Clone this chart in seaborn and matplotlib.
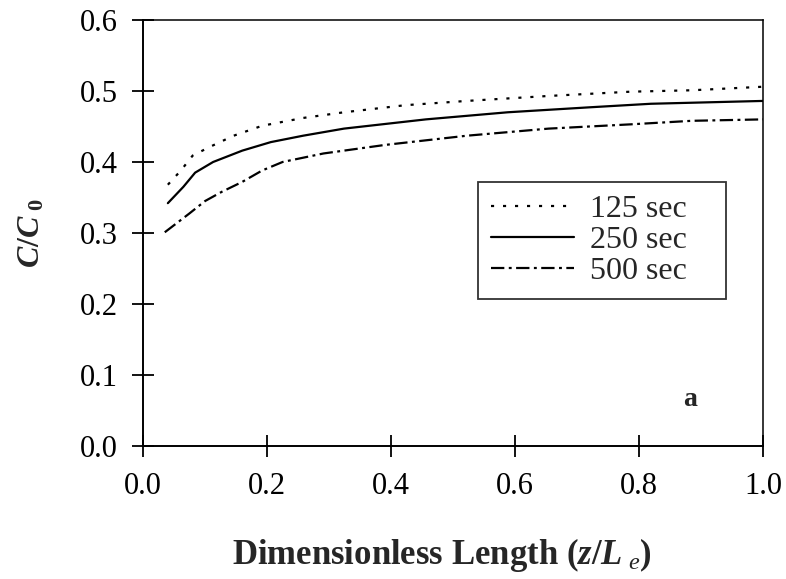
import matplotlib
matplotlib.use("Agg")
import matplotlib.pyplot as plt
import seaborn as sns
import pandas as pd

x125 = [0.040, 0.061, 0.080, 0.107, 0.146, 0.192, 0.258, 0.324, 0.423, 0.522, 0.654, 0.786, 0.885, 1.0]
y125 = [0.368, 0.388, 0.409, 0.421, 0.437, 0.451, 0.462, 0.470, 0.480, 0.486, 0.493, 0.499, 0.501, 0.506]

x250 = [0.040, 0.065, 0.084, 0.113, 0.160, 0.206, 0.258, 0.324, 0.456, 0.588, 0.720, 0.819, 1.0]
y250 = [0.342, 0.365, 0.385, 0.400, 0.416, 0.428, 0.437, 0.447, 0.460, 0.470, 0.477, 0.482, 0.486]

x500 = [0.035, 0.074, 0.100, 0.127, 0.160, 0.192, 0.225, 0.291, 0.390, 0.522, 0.654, 0.786, 0.885, 1.0]
y500 = [0.301, 0.327, 0.345, 0.358, 0.372, 0.388, 0.400, 0.412, 0.424, 0.437, 0.447, 0.453, 0.458, 0.460]

labels = ["125 sec", "250 sec", "500 sec"]
xticks = [0.0, 0.2, 0.4, 0.6, 0.8, 1.0]
yticks = [0.0, 0.1, 0.2, 0.3, 0.4, 0.5, 0.6]

sns.set_theme(style="white")
plt.rcParams['font.family'] = ['Liberation Serif', 'DejaVu Serif']
plt.rcParams['mathtext.fontset'] = 'custom'
plt.rcParams['mathtext.rm'] = 'Liberation Serif'
plt.rcParams['mathtext.it'] = 'Liberation Serif:italic'
plt.rcParams['mathtext.bf'] = 'Liberation Serif:bold'
plt.rcParams['mathtext.bfit'] = 'Liberation Serif:bold:italic'

fig = plt.figure(figsize=(7.86, 5.79), dpi=100)
ax = fig.add_axes([0.182, 0.2297, 0.789, 0.7358])

styles = [(0, (1.4, 4.0)), "-", (0, (6.0, 2.0, 1.3, 2.0))]
for xs, ys, lab, ls in zip([x125, x250, x500], [y125, y250, y500], labels, styles):
    df = pd.DataFrame({"x": xs, "y": ys})
    sns.lineplot(data=df, x="x", y="y", ax=ax, color="black", linewidth=1.6,
                 linestyle=ls, label=lab)

ax.set_xlim(0, 1.0)
ax.set_ylim(0, 0.6)
ax.set_xticks(xticks)
ax.set_yticks(yticks)
ax.set_xticklabels([f"{v:.1f}" for v in xticks])
ax.set_yticklabels([f"{v:.1f}" for v in yticks])
ax.tick_params(axis="both", direction="inout", length=16, width=1.3, color="black",
               labelsize=22, labelcolor="black", bottom=True, left=True,
               top=False, right=False)
ax.tick_params(axis="x", pad=11)
ax.tick_params(axis="y", pad=10)
for s in ax.spines.values():
    s.set_color("black")
    s.set_linewidth(1.4)
ax.spines["top"].set_linewidth(1.1)
ax.spines["right"].set_linewidth(1.1)

ax.set_xlabel(r"Dimensionless Length ($\boldsymbol{z/L}_{\ \mathit{e}}$)", fontsize=25,
              fontweight="bold")
ax.xaxis.set_label_coords(0.482, -0.212)
ax.set_ylabel(r"$\boldsymbol{C/C}_{\ \boldsymbol{0}}$", fontsize=23, labelpad=24)

leg_w = 0.400
leg_h = 116 / 426
leg = ax.legend(loc="upper left", bbox_to_anchor=(0.540, 0.620 - leg_h, leg_w, leg_h),
                mode="expand", borderaxespad=0,
                fontsize=23, frameon=True, fancybox=False, edgecolor="black",
                handlelength=2.6, handletextpad=0.5, borderpad=0.4, labelspacing=0.05)
leg.get_frame().set_linewidth(1.3)

ax.text(0.882, 0.108, "a", transform=ax.transAxes, fontsize=20, fontweight="bold",
        ha="center", va="center")

fig.savefig("out.png", dpi=100)
